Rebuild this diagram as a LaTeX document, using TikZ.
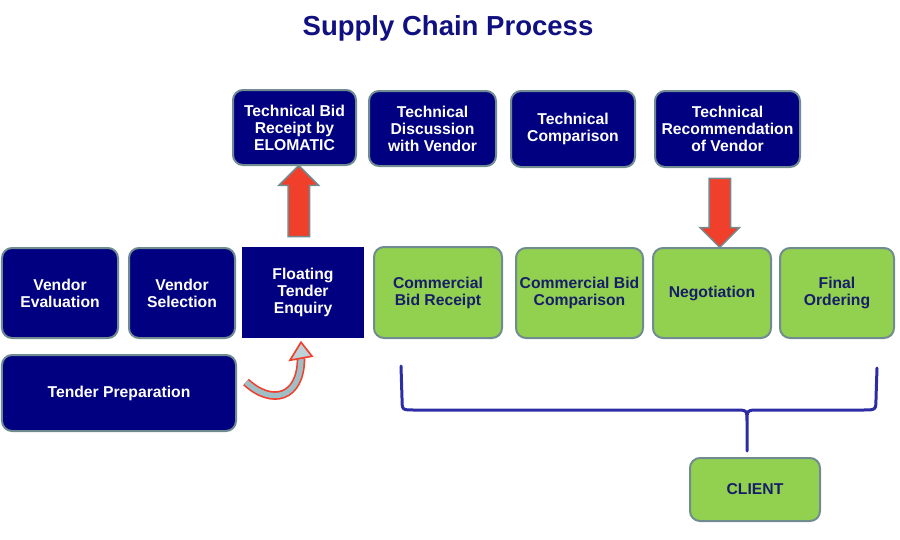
\documentclass[tikz,border=0pt]{standalone}
\usepackage{fontspec}
\setmainfont{Liberation Sans}
\definecolor{scnavy}{RGB}{0,0,128}
\definecolor{sctitle}{RGB}{16,16,128}
\definecolor{scgreen}{RGB}{146,208,80}
\definecolor{scgreentext}{RGB}{22,30,104}
\definecolor{scborder}{RGB}{112,140,144}
\definecolor{scred}{RGB}{240,64,44}
\definecolor{scbrace}{RGB}{44,44,164}
\definecolor{scshaft}{RGB}{160,190,198}
\usetikzlibrary{arrows.meta,positioning,shapes.arrows,calc}
\tikzset{
  navybox/.style={draw=scborder, line width=0.6mm, fill=scnavy, rounded corners=3mm, align=center,
    text=white, font=\fontsize{13.4}{14.6}\selectfont\bfseries, inner sep=1pt},
  greenbox/.style={navybox, fill=scgreen, text=scgreentext},
  flatbox/.style={fill=scnavy, align=center, text=white, font=\fontsize{13.4}{14.6}\selectfont\bfseries, inner sep=1pt},
  redarrow/.style={single arrow, draw=scborder, line width=0.45mm, fill=scred, inner xsep=0pt, inner ysep=3mm,
    single arrow head extend=2.7mm, single arrow head indent=0pt},
}
\begin{document}
\begin{tikzpicture}[x=0.3mm, y=-0.3mm]
  \useasboundingbox (0,0) rectangle (900,540);
  % Title
  \node[font=\fontsize{23.5}{26}\selectfont\bfseries, text=sctitle] (title) at (448,28) {Supply Chain Process};
  % Technical row
  \node[navybox, minimum width=36.9mm, minimum height=22.5mm] (techbid) at (294.5,127.5) {Technical Bid\\Receipt by\\ELOMATIC};
  \node[navybox, minimum width=38.1mm, minimum height=22.5mm] (techdisc) at (432.5,128.5) {Technical\\Discussion\\with Vendor};
  \node[navybox, minimum width=37.2mm, minimum height=22.8mm] (techcomp) at (573,129) {Technical\\Comparison};
  \node[navybox, minimum width=43.5mm, minimum height=22.8mm] (techrec) at (727.5,129) {Technical\\Recommendation\\of Vendor};
  % Vendor / tender row
  \node[navybox, minimum width=34.8mm, minimum height=27mm] (vendeval) at (60,293) {Vendor\\Evaluation};
  \node[navybox, minimum width=31.8mm, minimum height=27mm] (vendsel) at (182,293) {Vendor\\Selection};
  \node[flatbox, minimum width=36.6mm, minimum height=27.3mm] (floating) at (303,292.5) {Floating\\Tender\\Enquiry};
  \node[navybox, minimum width=70.2mm, minimum height=22.8mm] (tender) at (119,393) {Tender Preparation};
  % Commercial row
  \node[greenbox, minimum width=38.4mm, minimum height=27.3mm] (combid) at (438,292.5) {Commercial\\Bid Receipt};
  \node[greenbox, minimum width=38.1mm, minimum height=27mm] (comcomp) at (579.5,293) {Commercial Bid\\Comparison};
  \node[greenbox, minimum width=35.4mm, minimum height=27mm] (negot) at (712,293) {Negotiation};
  \node[greenbox, minimum width=34.2mm, minimum height=27mm] (final) at (837,293) {Final\\Ordering};
  \node[greenbox, minimum width=39mm, minimum height=18.9mm] (client) at (755,489.5) {CLIENT};
  % Red block arrows
  \node[redarrow, rotate=90, minimum height=21.3mm] (uparrow) at ($(floating.north)!0.5!(techbid.south)$) {};
  \node[redarrow, rotate=-90, minimum height=20.7mm] (downarrow) at ($(techrec.south)!0.5!(negot.north)$) {};
  % Curved arrow from tender preparation to floating tender enquiry
  \coordinate (bendstart) at ([shift={(9,-11)}]tender.east);
  \coordinate (bendend) at ([shift={(-2,20)}]floating.south);
  \draw[draw=scred, line width=0.5mm, double=scshaft, double distance=1.6mm]
    (bendstart) .. controls +(26,24) and +(0,40) .. (bendend);
  \filldraw[draw=scred, line width=0.5mm, fill=scshaft!70!white]
    ([shift={(-11,2)}]bendend) -- ([shift={(0,-16)}]bendend) -- ([shift={(11,-2)}]bendend) -- cycle;
  % Brace to client
  \coordinate (braceL) at (401,366);
  \coordinate (braceR) at (877,368);
  \coordinate (braceS) at ([shift={(-8,-6)}]client.north);
  \draw[draw=scbrace, line width=0.9mm, line cap=round]
    (braceL) -- (402,398) .. controls (402,410) .. (414,410) -- (735,410)
      .. controls (747,410) .. (747,422) -- (braceS)
    (747,422) .. controls (747,410) .. (759,410) -- (863,410)
      .. controls (876,410) .. (876,398) -- (braceR);
\end{tikzpicture}
\end{document}
